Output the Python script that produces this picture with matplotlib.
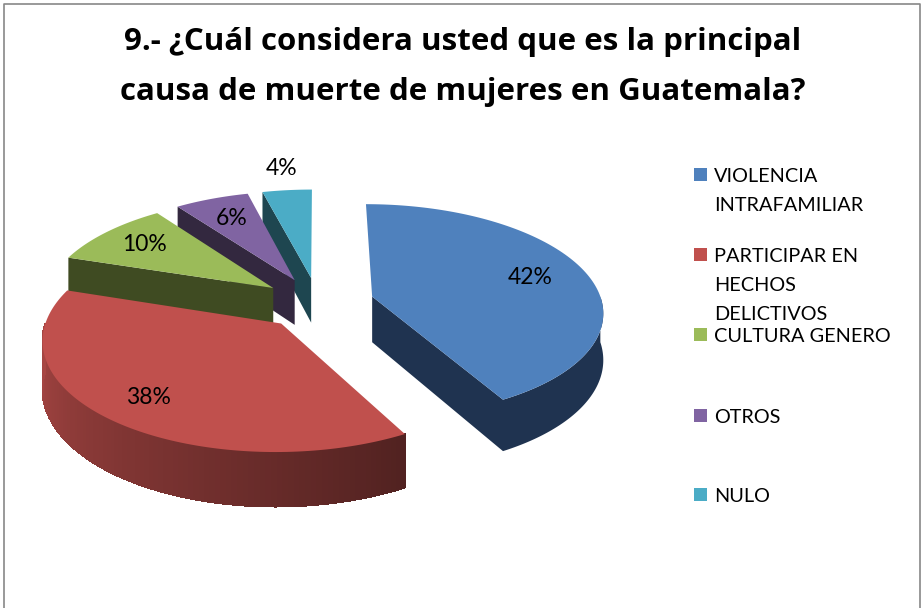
import numpy as np
import matplotlib
matplotlib.use('Agg')
import matplotlib.pyplot as plt
from matplotlib.patches import Polygon, Rectangle

# Chart data
categories = [['VIOLENCIA', 'INTRAFAMILIAR'],
              ['PARTICIPAR EN', 'HECHOS', 'DELICTIVOS'],
              ['CULTURA GENERO'], ['OTROS'], ['NULO']]
values = [42, 38, 10, 6, 4]
top_colors = ['#4F81BD', '#C0504D', '#9BBB59', '#8064A2', '#4BACC6']
side_colors = ['#1F3350', '#7A2E2C', '#3F4B22', '#33283F', '#1E4650']

title_lines = ['9.- ¿Cuál considera usted que es la principal',
               'causa de muerte de mujeres en Guatemala?']

# 3D pie geometry (pixel space)
CX, CY = 318, 303
RX, RY = 230, 106
PERSP = 0.13
DEPTH = 46
EXPLODE = 0.245
label_r = [0.74, 0.79, 0.76, 0.74, 1.28]

plt.rcParams['font.family'] = ['Lato', 'DejaVu Sans']

fig = plt.figure(figsize=(9.22, 6.08), dpi=100)
ax = fig.add_axes([0, 0, 1, 1])
ax.set_xlim(0, 922)
ax.set_ylim(608, 0)
ax.axis('off')


def proj(X, Y, drop=0.0):
    k = 1.0 / (1.0 + PERSP * np.asarray(Y))
    return CX + np.asarray(X) * RX * k, CY - np.asarray(Y) * RY * k + drop * k


def shade(c, f):
    rgb = np.array(matplotlib.colors.to_rgb(c))
    return tuple(np.clip(rgb * f, 0, 1))


total = float(sum(values))
bounds = np.concatenate([[0], np.cumsum(values)]) / total * 360.0

slices = []
for i, v in enumerate(values):
    a0, a1 = bounds[i], bounds[i + 1]
    mid = np.radians((a0 + a1) / 2)
    vx, vy = EXPLODE * np.sin(mid), EXPLODE * np.cos(mid)
    slices.append((i, a0, a1, vx, vy, mid))

# painter's order: back slices first
order = sorted(slices, key=lambda s: -s[4])

for i, a0, a1, vx, vy, mid in order:
    th = np.radians(np.linspace(a0, a1, 120))
    rx, ry = vx + np.sin(th), vy + np.cos(th)

    # radial faces that face the viewer
    for ang, vis in ((a0, np.sin(np.radians(a0)) < -1e-6),
                     (a1, np.sin(np.radians(a1)) > 1e-6)):
        if not vis:
            continue
        ex, ey = vx + np.sin(np.radians(ang)), vy + np.cos(np.radians(ang))
        p1 = proj(vx, vy); p2 = proj(ex, ey)
        p3 = proj(ex, ey, DEPTH); p4 = proj(vx, vy, DEPTH)
        ax.add_patch(Polygon([p1, p2, p3, p4], closed=True,
                             facecolor=side_colors[i], edgecolor='none'))

    # outer wall on the front half
    lo, hi = max(a0, 90), min(a1, 270)
    if lo < hi:
        tw = np.radians(np.linspace(lo, hi, 100))
        wx, wy = vx + np.sin(tw), vy + np.cos(tw)
        if i == 1:
            # shaded strips, lighter on the left
            for j in range(len(tw) - 1):
                q = [proj(wx[j], wy[j]), proj(wx[j + 1], wy[j + 1]),
                     proj(wx[j + 1], wy[j + 1], DEPTH), proj(wx[j], wy[j], DEPTH)]
                f = 0.88 - 0.46 * (270 - np.degrees(tw[j])) / 120
                col = shade(top_colors[i], f)
                ax.add_patch(Polygon(q, closed=True, facecolor=col,
                                     edgecolor=col, linewidth=0.8,
                                     antialiased=False))
        else:
            tx, ty = proj(wx, wy)
            bx, by = proj(wx, wy, DEPTH)
            pts = np.column_stack([np.concatenate([tx, bx[::-1]]),
                                   np.concatenate([ty, by[::-1]])])
            ax.add_patch(Polygon(pts, closed=True, facecolor=side_colors[i],
                                 edgecolor='none'))

    # top face
    px, py = proj(np.concatenate([[vx], rx]), np.concatenate([[vy], ry]))
    ax.add_patch(Polygon(np.column_stack([px, py]), closed=True,
                         facecolor=top_colors[i], edgecolor='none'))

# data labels
for i, a0, a1, vx, vy, mid in slices:
    lx, ly = proj(vx + label_r[i] * np.sin(mid), vy + label_r[i] * np.cos(mid))
    ax.text(lx, ly, f'{values[i]}%', ha='center', va='center',
            fontsize=16.5, color='black')

# title
for k, line in enumerate(title_lines):
    ax.text(463, 50 + 50 * k, line, ha='center', va='baseline', fontsize=22.5,
            fontweight='bold', family=['Open Sans', 'DejaVu Sans'])

# legend
leg_y = [175, 255, 335, 416, 495]
for i, lines in enumerate(categories):
    ax.add_patch(Rectangle((694, leg_y[i] - 7), 13, 13,
                           facecolor=top_colors[i], edgecolor='none'))
    for k, line in enumerate(lines):
        ax.text(714, leg_y[i] + 7 + 29 * k, line, ha='left', va='baseline',
                fontsize=14.3)

# chart frame
ax.plot([3.5, 3.5, 919.5, 919.5], [610, 3.5, 3.5, 610], color='#888888',
        linewidth=1.2, clip_on=False)

fig.savefig('out.png', dpi=100, facecolor='white')
